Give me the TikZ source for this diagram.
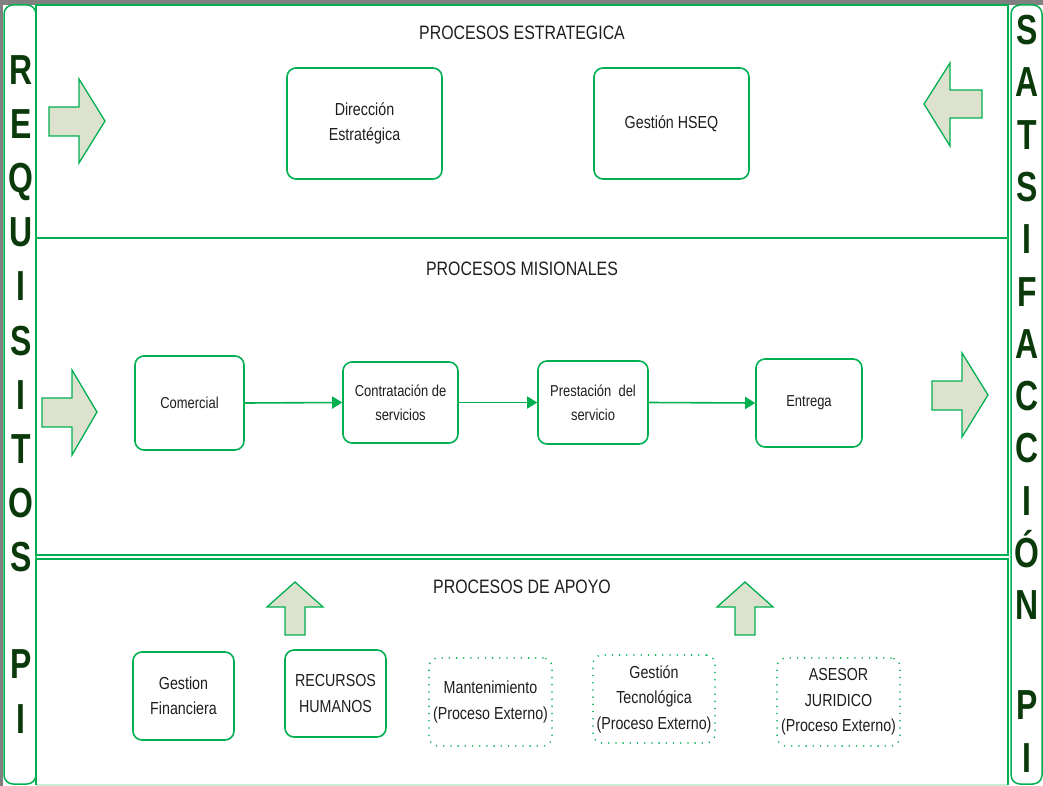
\documentclass[tikz,border=0pt]{standalone}
\usepackage{fontspec}
\setmainfont{Liberation Sans}[FakeStretch=0.82]
\newfontfamily\sidefont{Liberation Sans}[FakeStretch=0.76]
\usetikzlibrary{arrows.meta}
\definecolor{grn}{HTML}{00B050}
\definecolor{afill}{HTML}{DDE2CE}
\definecolor{dkg}{HTML}{0A3A0A}
\definecolor{bggray}{HTML}{808080}
\definecolor{lightg}{HTML}{C8EBD6}
\definecolor{txt}{HTML}{1E1E1E}
\begin{document}
\begin{tikzpicture}[x=1pt,y=-1pt,
 procbox/.style={draw=grn, line width=1.6pt, rounded corners=9pt, fill=white, align=center, text=txt, inner sep=0pt},
 extbox/.style={draw=grn, line width=1.8pt, dash pattern=on 0pt off 7.2pt, line cap=round, rounded corners=9pt, align=center, text=txt, inner sep=0pt},
 topfont/.style={font=\fontsize{17.4}{25}\selectfont},
 midfont/.style={font=\fontsize{15.8}{24}\selectfont},
 lowfont/.style={font=\fontsize{17.4}{25.5}\selectfont},
 title/.style={font=\fontsize{19.4}{23}\selectfont, text=txt, inner sep=0pt},
 blockarrow/.style={draw=grn, line width=1.3pt, fill=afill, line join=miter},
 frame/.style={draw=grn, line width=1.5pt},
 flow/.style={draw=grn, line width=1.6pt, -{Triangle[length=10pt,width=12pt]}},
 sideL/.style={font=\sidefont\bfseries\fontsize{42}{54.2}\selectfont, text=dkg, align=center, inner sep=0pt},
 sideR/.style={font=\sidefont\bfseries\fontsize{42}{52.3}\selectfont, text=dkg, align=center, inner sep=0pt}
]
\useasboundingbox (0,0) rectangle (1043,786);
\fill[bggray] (0,0) rectangle (1043,786);
\fill[white] (3,5) rectangle (1043,786);

% side columns
\draw[frame, rounded corners=9pt] (4,5) rectangle (36,784);
\draw[frame, rounded corners=9pt] (1011,5) rectangle (1042,784);

% sections
\draw[frame] (36,5) rectangle (1008,238);
\draw[frame] (36,238) rectangle (1008,555);
\draw[lightg, line width=1.5pt] (36,785) -- (1008,785);
\draw[frame] (36,785) -- (36,559) -- (1008,559) -- (1008,785);

% side texts
\node[sideL, anchor=north] (req) at (21,55) {R\\E\\Q\\U\\I\\S\\I\\T\\O\\S\\[52.8pt]P\\I};
\node[sideR, anchor=north] (sat) at (1027,15) {S\\A\\T\\S\\I\\F\\A\\C\\C\\I\\Ó\\N\\[47.7pt]P\\I};

% titles
\node[title] (t1) at (522,33) {PROCESOS ESTRATEGICA};
\node[title] (t2) at (522,269) {PROCESOS MISIONALES};
\node[title] (t3) at (522,587) {PROCESOS DE APOYO};

% block arrows
\draw[blockarrow] (49,107) -- (79,107) -- (79,79) -- (105,121) -- (79,163) -- (79,136) -- (49,136) -- cycle;
\draw[blockarrow] (982,90) -- (950,90) -- (950,63) -- (924,104) -- (950,146) -- (950,118) -- (982,118) -- cycle;
\draw[blockarrow] (42,398) -- (72,398) -- (72,370) -- (97,412) -- (72,455) -- (72,427) -- (42,427) -- cycle;
\draw[blockarrow] (932,381) -- (962,381) -- (962,353) -- (988,395) -- (962,437) -- (962,410) -- (932,410) -- cycle;
\draw[blockarrow] (285,635) -- (285,607) -- (267,607) -- (295,582) -- (323,607) -- (305,607) -- (305,635) -- cycle;
\draw[blockarrow] (735,635) -- (735,607) -- (717,607) -- (745,582) -- (773,607) -- (755,607) -- (755,635) -- cycle;

% strategic
\node[procbox, topfont, minimum width=155pt, minimum height=111pt] (dir) at (364.5,123.5) {Dirección\\Estratégica};
\node[procbox, topfont, minimum width=155pt, minimum height=111pt] (hseq) at (671.5,123.5) {Gestión HSEQ};

% missional
\node[procbox, midfont, minimum width=109pt, minimum height=94pt] (com) at (189.5,403) {Comercial};
\node[procbox, midfont, minimum width=115pt, minimum height=81pt] (con) at (400.5,402.5) {Contratación de\\servicios};
\node[procbox, midfont, minimum width=110pt, minimum height=83pt] (pre) at (593,402.5) {Prestación\ \ del\\servicio};
\node[procbox, midfont, minimum width=106pt, minimum height=88pt] (ent) at (809,403) {Entrega};
\draw[flow] (com.east) -- (con.west);
\draw[flow] (con.east) -- (pre.west);
\draw[flow] (pre.east) -- (ent.west);

% support
\node[procbox, lowfont, minimum width=101pt, minimum height=88pt] (fin) at (183.5,696) {Gestion\\Financiera};
\node[procbox, lowfont, minimum width=101pt, minimum height=87pt] (rh) at (335.5,693.5) {RECURSOS\\HUMANOS};
\node[extbox, lowfont, minimum width=123pt, minimum height=88pt] (man) at (490.5,702) {Mantenimiento\\(Proceso Externo)};
\node[extbox, lowfont, minimum width=122pt, minimum height=88pt] (tec) at (654,699) {Gestión\\Tecnológica\\(Proceso Externo)};
\node[extbox, lowfont, minimum width=123pt, minimum height=88pt] (ase) at (838.5,702) {ASESOR\\JURIDICO\\(Proceso Externo)};
\end{tikzpicture}
\end{document}
